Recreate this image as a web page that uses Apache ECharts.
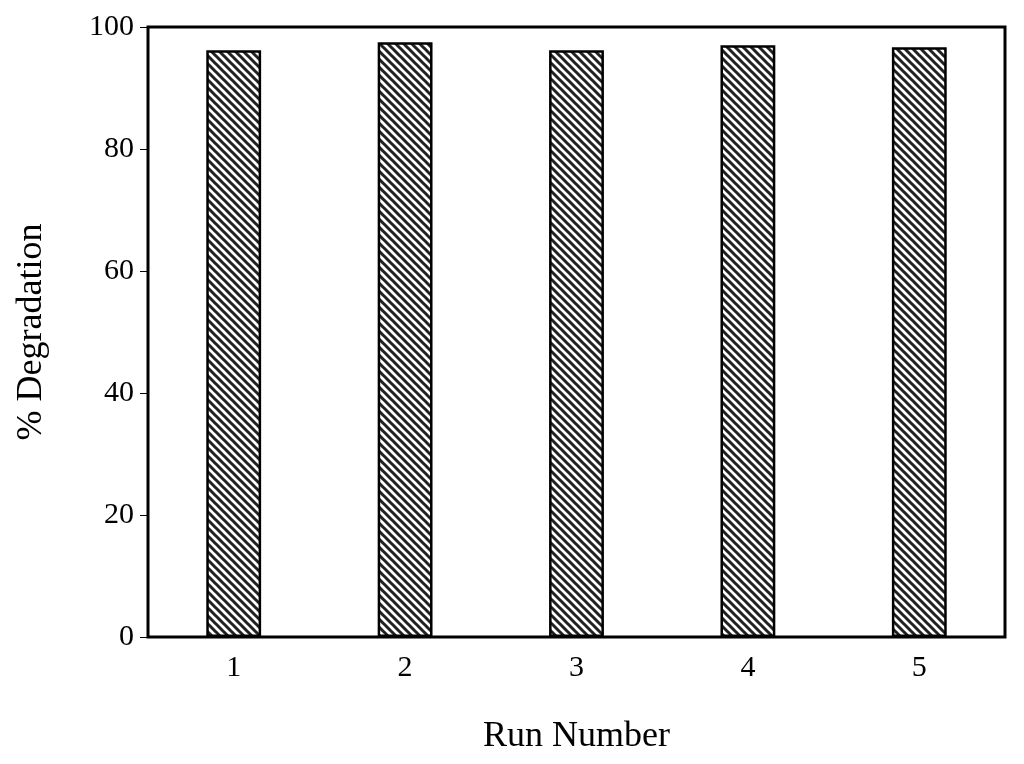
<!DOCTYPE html>
<html>
<head>
<meta charset="utf-8">
<script src="https://cdn.jsdelivr.net/npm/echarts@6/dist/echarts.min.js"></script>
<style>html,body{margin:0;padding:0;background:#fff}#chart_show{width:1024px;height:764px}</style>
</head>
<body>
<div id="chart_show"></div>
<script>
var runs = ['1', '2', '3', '4', '5'];
var degradation = [96.2, 97.5, 96.2, 97.0, 96.7];

// hatch pattern: diagonal stripes
var cv = document.createElement('canvas');
cv.width = 8; cv.height = 8;
var ctx = cv.getContext('2d');
ctx.fillStyle = '#fff';
ctx.fillRect(0, 0, 8, 8);
ctx.strokeStyle = '#222';
ctx.lineWidth = 3;
ctx.beginPath();
ctx.moveTo(-4, -4); ctx.lineTo(12, 12);
ctx.moveTo(-4, 4); ctx.lineTo(4, 12);
ctx.moveTo(4, -4); ctx.lineTo(12, 4);
ctx.stroke();

var font = '"Liberation Serif", "Times New Roman", serif';
var myChart = echarts.init(document.getElementById('chart_show'));
myChart.setOption({
    animation: false,
    grid: { left: 148, right: 19, top: 27, bottom: 127, show: true, borderColor: '#000', borderWidth: 3 },
    xAxis: {
        type: 'category',
        data: runs,
        name: 'Run Number',
        nameLocation: 'middle',
        nameGap: 82,
        nameTextStyle: { fontFamily: font, fontSize: 36, color: '#000' },
        axisLine: { lineStyle: { color: '#000', width: 2 } },
        axisTick: { alignWithLabel: true, length: 6, lineStyle: { color: '#000' } },
        axisLabel: { fontFamily: font, fontSize: 30, color: '#000', margin: 16 }
    },
    yAxis: {
        type: 'value',
        min: 0, max: 100, interval: 20,
        name: '% Degradation',
        nameLocation: 'middle',
        nameGap: 98,
        nameTextStyle: { fontFamily: font, fontSize: 36, color: '#000' },
        axisLine: { show: true, lineStyle: { color: '#000', width: 2 } },
        axisTick: { show: true, length: 8, lineStyle: { color: '#000' } },
        splitLine: { show: false },
        axisLabel: { fontFamily: font, fontSize: 30, color: '#000', margin: 14 }
    },
    series: [{
        type: 'bar',
        data: degradation,
        barWidth: '32%',
        itemStyle: { color: { image: cv, repeat: 'repeat' }, borderColor: '#000', borderWidth: 2.5 }
    }]
});
</script>
</body>
</html>
